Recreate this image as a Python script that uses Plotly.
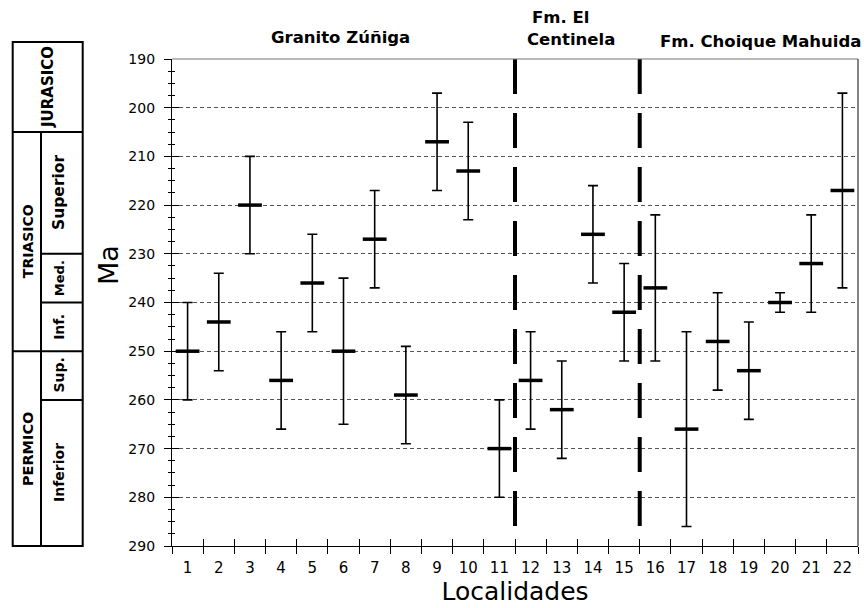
import plotly.graph_objects as go

# ---------------- data ----------------
localidades = list(range(1, 23))
tick_labels = [str(i) for i in localidades]
edad_ma = [250, 244, 220, 256, 236, 250, 227, 259, 207, 213, 270,
           256, 262, 226, 242, 237, 266, 248, 254, 240, 232, 217]
error_ma = [10, 10, 10, 10, 10, 15, 10, 10, 10, 10, 10,
            10, 10, 10, 10, 15, 20, 10, 10, 2, 10, 20]
limites_formacion = [11.5, 15.5]       # boundaries between units (x)
limite_base_ma = [190, 286]            # vertical extent of boundary lines
y_ticks = list(range(190, 291, 10))
tick_bounds = [i + 0.5 for i in range(0, 23)]

unidades = ["Granito Zúñiga", "Fm. El", "Centinela", "Fm. Choique Mahuida"]

# chronostratigraphic column (Ma)
col_top = 186.5
col_bottom = 290
limites_periodo = [205, 250]            # Jurásico/Triásico, Triásico/Pérmico
limites_epoca = [230, 240, 260]        # sub-divisions
periodos = [("JURASICO", 186.5, 205, 15), ("TRIASICO", 205, 250, 14),
            ("PERMICO", 250, 290, 14.5)]
epocas = [("Superior", 205, 230, 15.5), ("Med.", 230, 240, 13),
          ("Inf.", 240, 250, 14), ("Sup.", 250, 260, 14),
          ("Inferior", 260, 290, 14)]

# ---------------- layout geometry ----------------
W, H = 866, 608
ML, MR, MT, MB = 172, 8, 59, 62
PW = W - ML - MR
PH = H - MT - MB


def px_x(px):
    return (px - ML) / PW


def px_y(py):
    return (H - MB - py) / PH


def ma_y(ma):
    return (290 - ma) / 100.0


fig = go.Figure()

# boundary dashed lines
for xb in limites_formacion:
    fig.add_trace(go.Scatter(
        x=[xb, xb], y=limite_base_ma, mode="lines",
        line=dict(color="black", width=4, dash="35px,19px"),
        hoverinfo="skip", showlegend=False))

# ages with error bars
fig.add_trace(go.Scatter(
    x=localidades, y=edad_ma, mode="markers",
    marker=dict(symbol="line-ew", size=17, color="black",
                line=dict(color="black", width=3.5)),
    error_y=dict(type="data", array=error_ma, visible=True,
                 color="black", thickness=1.6, width=5),
    showlegend=False))

# invisible trace for the secondary (inside tick) axes
fig.add_trace(go.Scatter(x=[1], y=[250], xaxis="x2", yaxis="y2",
                         mode="markers", marker=dict(opacity=0),
                         hoverinfo="skip", showlegend=False))

tickfont = dict(family="DejaVu Sans", size=14, color="black")

fig.update_layout(
    width=W, height=H,
    margin=dict(l=ML, r=MR, t=MT, b=MB, autoexpand=False),
    paper_bgcolor="white", plot_bgcolor="white",
    font=dict(family="DejaVu Sans", color="black"),
    xaxis=dict(
        range=[0.5, 22.5], tickmode="array", tickvals=localidades,
        ticktext=tick_labels, ticks="", showgrid=False, zeroline=False,
        showline=True, linecolor="black", linewidth=1.2,
        tickfont=dict(family="DejaVu Sans", size=15, color="black"),
        ticklabelstandoff=8,
        minor=dict(tickmode="array", tickvals=tick_bounds, ticks="outside",
                   ticklen=7, tickwidth=1, tickcolor="black", showgrid=False),
        title=dict(text="Localidades",
                   font=dict(family="DejaVu Sans", size=25, color="black"),
                   standoff=4),
    ),
    yaxis=dict(
        range=[290, 190], tickmode="array", tickvals=y_ticks,
        ticks="outside", ticklen=7, tickwidth=1, tickcolor="black",
        showgrid=True, gridcolor="#555555", gridwidth=1, griddash="4px,3px",
        zeroline=False, showline=True, linecolor="black", linewidth=1.2,
        tickfont=tickfont, ticklabelstandoff=6,
        minor=dict(dtick=2.5, tick0=190, ticks="outside", ticklen=3,
                   tickwidth=1, tickcolor="black", showgrid=False),
    ),
    xaxis2=dict(
        range=[0.5, 22.5], overlaying="x", anchor="y2", side="bottom",
        tickmode="array", tickvals=tick_bounds, ticks="inside", ticklen=7,
        tickwidth=1, tickcolor="black", showticklabels=False,
        showgrid=False, zeroline=False, showline=False,
    ),
    yaxis2=dict(
        range=[290, 190], overlaying="y", anchor="x2", side="left",
        tickmode="array", tickvals=y_ticks, ticks="inside", ticklen=7,
        tickwidth=1, tickcolor="black", showticklabels=False,
        showgrid=False, zeroline=False, showline=False,
        minor=dict(dtick=2.5, tick0=190, ticks="inside", ticklen=3,
                   tickwidth=1, tickcolor="black", showgrid=False),
    ),
)

# top and right frame lines (grey)
fig.add_shape(type="line", xref="paper", yref="paper", x0=0, x1=1, y0=1, y1=1,
              line=dict(color="#777777", width=1.2))
fig.add_shape(type="line", xref="paper", yref="paper", x0=1, x1=1, y0=0, y1=1,
              line=dict(color="#333333", width=1.2))

# chronostratigraphic column
cx0, cxm, cx1 = px_x(12.7), px_x(41), px_x(82.7)
lw = dict(color="black", width=2)
fig.add_shape(type="rect", xref="paper", yref="paper",
              x0=cx0, x1=cx1, y0=ma_y(col_bottom), y1=ma_y(col_top), line=lw)
fig.add_shape(type="line", xref="paper", yref="paper",
              x0=cxm, x1=cxm, y0=ma_y(col_bottom), y1=ma_y(limites_periodo[0]), line=lw)
for b in limites_periodo:
    fig.add_shape(type="line", xref="paper", yref="paper",
                  x0=cx0, x1=cx1, y0=ma_y(b), y1=ma_y(b), line=lw)
for b in limites_epoca:
    fig.add_shape(type="line", xref="paper", yref="paper",
                  x0=cxm, x1=cx1, y0=ma_y(b), y1=ma_y(b), line=lw)

for name, a, b, fs in periodos:
    xc = px_x(48) if name == "JURASICO" else px_x(27.5)
    fig.add_annotation(x=xc, y=ma_y((a + b) / 2), xref="paper", yref="paper",
                       text="<b>%s</b>" % name, textangle=-90, showarrow=False,
                       font=dict(family="DejaVu Sans", size=fs, color="black"),
                       xanchor="center", yanchor="middle")
for name, a, b, fs in epocas:
    fig.add_annotation(x=px_x(59), y=ma_y((a + b) / 2), xref="paper", yref="paper",
                       text="<b>%s</b>" % name, textangle=-90, showarrow=False,
                       font=dict(family="DejaVu Sans", size=fs, color="black"),
                       xanchor="center", yanchor="middle")

# unit labels on top
hfont = dict(family="DejaVu Sans", size=16.5, color="black")
label_pos = [(340, 37), (560, 17.5), (571, 39.5), (760.5, 42)]
for txt, (px, py) in zip(unidades, label_pos):
    fig.add_annotation(x=px_x(px), y=px_y(py), xref="paper", yref="paper",
                       text="<b>%s</b>" % txt, showarrow=False, font=hfont,
                       xanchor="center", yanchor="middle")

# y axis title
fig.add_annotation(x=px_x(108), y=px_y(265), xref="paper", yref="paper",
                   text="Ma", textangle=-90, showarrow=False,
                   font=dict(family="DejaVu Sans", size=27, color="black"),
                   xanchor="center", yanchor="middle")

fig.write_html("out.html",
               config={"displayModeBar": False},
               post_script="document.body.style.margin='0';"
                           "document.body.style.overflow='hidden';")
